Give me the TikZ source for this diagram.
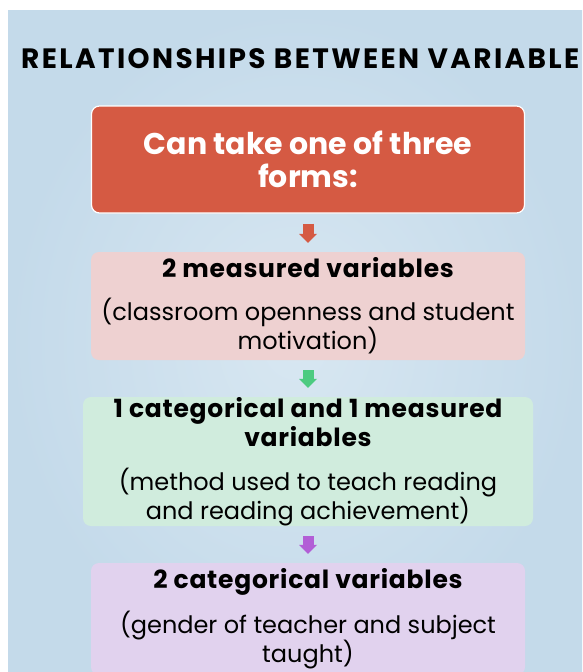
\documentclass[tikz,border=0pt]{standalone}
\usepackage{fontspec}
\setmainfont{Poppins}
\newfontfamily\titlefont[LetterSpace=8.5]{Poppins}
\newfontfamily\headfont[LetterSpace=3]{Poppins}
\usetikzlibrary{arrows.meta}
\definecolor{bgblue}{RGB}{206,225,238}
\definecolor{bgedge}{RGB}{196,218,234}
\definecolor{formred}{RGB}{213,90,67}
\definecolor{formpink}{RGB}{238,209,209}
\definecolor{formgreen}{RGB}{208,236,221}
\definecolor{formpurple}{RGB}{225,210,238}
\definecolor{arrgreen}{RGB}{76,203,128}
\definecolor{arrpurple}{RGB}{178,94,214}
\newcommand{\head}[1]{{\headfont\bfseries\fontsize{25}{30}\selectfont #1}}
\begin{document}
\begin{tikzpicture}[x=1pt,y=1pt,
	box/.style={rounded corners=8pt, inner sep=0pt, align=center, font=\fontsize{24}{29}\selectfont},
	fatarrow/.style={line width=11pt, draw=#1, -{Triangle[length=9pt,width=18pt,line width=0pt]}, shorten <=10pt, shorten >=9pt}]
	\useasboundingbox (0,0) rectangle (582,-672);
	\shade [inner color=bgblue!80!white, outer color=bgedge] (8,-10) rectangle (582,-672);
	\node [anchor=base west, inner sep=0pt, font=\titlefont\bfseries\fontsize{28}{30}\selectfont] (title) at (21,-68) {RELATIONSHIPS BETWEEN VARIABLE};
	\node [box, fill=formred, draw=white, line width=1.2pt, minimum width=433pt, minimum height=107pt, text=white, font=\bfseries\fontsize{30}{33}\selectfont] (forms) at (308,-159.5) {Can take one of three\\forms:};
	\node [box, fill=formpink, minimum width=434pt, minimum height=108pt] (measured) at (308,-306) {\head{2 measured variables}\\[14pt](classroom openness and student\\motivation)};
	\node [box, fill=formgreen, minimum width=450pt, minimum height=129pt] (mixed) at (308,-461.5) {\head{1 categorical and 1 measured}\\\head{variables}\\[15pt](method used to teach reading\\and reading achievement)};
	\node [box, fill=formpurple, minimum width=434pt, minimum height=112pt] (categorical) at (308,-619) {\head{2 categorical variables}\\[15pt](gender of teacher and subject\\taught)};
	\draw [fatarrow=formred] (forms) -- (measured);
	\draw [fatarrow=arrgreen] (measured) -- (mixed);
	\draw [fatarrow=arrpurple] (mixed) -- (categorical);
\end{tikzpicture}
\end{document}
